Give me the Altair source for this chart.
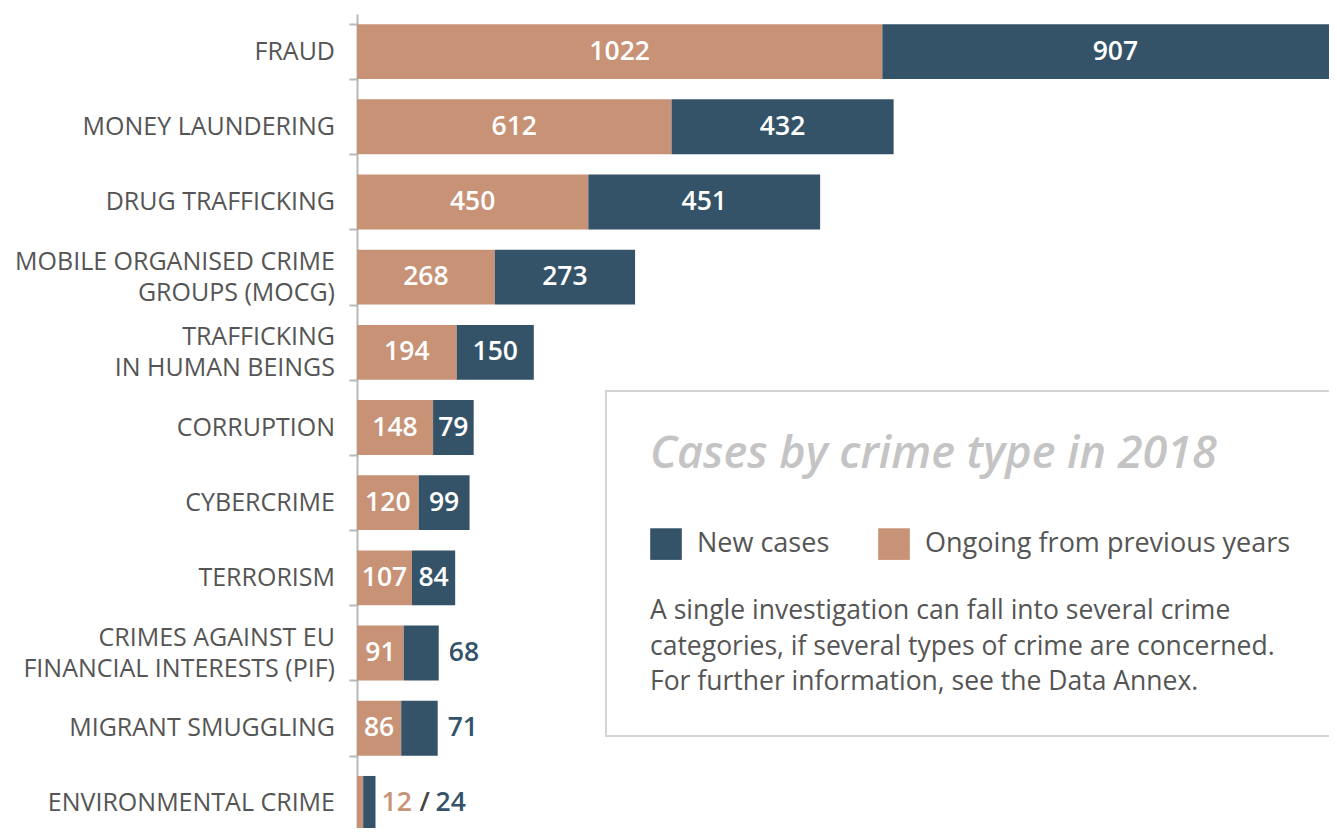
import altair as alt
import pandas as pd

# ---- data ----
categories = [
    "FRAUD",
    "MONEY LAUNDERING",
    "DRUG TRAFFICKING",
    "MOBILE ORGANISED CRIME|GROUPS (MOCG)",
    "TRAFFICKING|IN HUMAN BEINGS",
    "CORRUPTION",
    "CYBERCRIME",
    "TERRORISM",
    "CRIMES AGAINST EU|FINANCIAL INTERESTS (PIF)",
    "MIGRANT SMUGGLING",
    "ENVIRONMENTAL CRIME",
]
ongoing = [1022, 612, 450, 268, 194, 148, 120, 107, 91, 86, 12]
new_cases = [907, 432, 451, 273, 150, 79, 99, 84, 68, 71, 24]

series_names = ["Ongoing from previous years", "New cases"]
legend_order = ["New cases", "Ongoing from previous years"]
title_text = "Cases by crime type in 2018"
note_lines = [
    "A single investigation can fall into several crime",
    "categories, if several types of crime are concerned.",
    "For further information, see the Data Annex.",
]

ORANGE = "#C89276"
BLUE = "#345369"
GREY_TXT = "#555555"
FONT = "Open Sans"

# ---- tables built from the arrays ----
rows = []
for c, o, n in zip(categories, ongoing, new_cases):
    rows.append(dict(category=c, series=series_names[0], value=o, start=0, end=o,
                     mid=o / 2, order=0))
    rows.append(dict(category=c, series=series_names[1], value=n, start=o, end=o + n,
                     mid=o + n / 2, order=1))
bars = pd.DataFrame(rows)

lab = pd.DataFrame(dict(category=categories, ongoing=ongoing, new=new_cases))
lab["total"] = lab["ongoing"] + lab["new"]
lab["o_mid"] = lab["ongoing"] / 2
lab["n_mid"] = lab["ongoing"] + lab["new"] / 2
lab["o_in"] = lab["ongoing"] >= 50
lab["n_in"] = lab["new"] >= 75
lab["o_txt"] = lab["ongoing"].astype(str)
lab["n_txt"] = lab["new"].astype(str)
lab["multi"] = lab["category"].str.contains("|", regex=False)

xscale = alt.Scale(domain=[0, 1891], nice=False, zero=True)
yscale = alt.Scale(domain=categories, range=[0, 827], paddingInner=0.27, paddingOuter=0.135)

Y = alt.Y("category:N", sort=categories, scale=yscale, title=None,
          axis=alt.Axis(labels=False, tickBand="extent",
                        domainColor="#B8B8B8", domainWidth=2, tickColor="#B8B8B8",
                        tickWidth=2, tickSize=8))

bar = alt.Chart(bars).mark_bar(clip=True).encode(
    x=alt.X("start:Q", scale=xscale, axis=None),
    x2="end:Q",
    y=Y,
    color=alt.Color("series:N",
                    scale=alt.Scale(domain=legend_order, range=[BLUE, ORANGE]),
                    legend=alt.Legend(title=None, orient="none", legendX=293, legendY=514,
                                      direction="horizontal", symbolType="square",
                                      symbolSize=1000, symbolStrokeWidth=0,
                                      symbolOpacity=1, labelFontSize=27,
                                      labelFont=FONT, labelColor=GREY_TXT,
                                      labelOffset=15, columnPadding=48, padding=0,
                                      labelLimit=500)),
    order="order:Q",
)

# category labels (drawn as text so that two-line labels sit centred on their band)
cat_base = dict(font=FONT, fontSize=25, color=GREY_TXT, align="right", baseline="middle",
                lineBreak="|", lineHeight=31.5)
cat_single = alt.Chart(lab).transform_filter("!datum.multi").mark_text(
    dx=-22, **cat_base).encode(x=alt.value(0), y=Y, text="category:N")
cat_multi = alt.Chart(lab).transform_filter("datum.multi").mark_text(
    dx=-22, dy=-15.5, **cat_base).encode(x=alt.value(0), y=Y, text="category:N")

txt_base = dict(font=FONT, fontSize=26.5, fontWeight=600, baseline="middle")

o_in = alt.Chart(lab).transform_filter("datum.o_in").mark_text(
    color="white", align="center", **txt_base).encode(
    x=alt.X("o_mid:Q", scale=xscale), y=Y, text="o_txt:N")
n_in = alt.Chart(lab).transform_filter("datum.n_in").mark_text(
    color="white", align="center", **txt_base).encode(
    x=alt.X("n_mid:Q", scale=xscale), y=Y, text="n_txt:N")
n_out = alt.Chart(lab).transform_filter("!datum.n_in && datum.o_in").mark_text(
    color=BLUE, align="left", dx=10, **txt_base).encode(
    x=alt.X("total:Q", scale=xscale), y=Y, text="n_txt:N")
small_o = alt.Chart(lab).transform_filter("!datum.o_in").mark_text(
    color=ORANGE, align="left", dx=6, **txt_base).encode(
    x=alt.X("total:Q", scale=xscale), y=Y, text="o_txt:N")
small_sep = alt.Chart(lab).transform_filter("!datum.o_in").mark_text(
    color="#444444", align="left", dx=44, **txt_base).encode(
    x=alt.X("total:Q", scale=xscale), y=Y, text=alt.value("/"))
small_n = alt.Chart(lab).transform_filter("!datum.o_in").mark_text(
    color=BLUE, align="left", dx=60, **txt_base).encode(
    x=alt.X("total:Q", scale=xscale), y=Y, text="n_txt:N")

# annotation box (decoration)
one = pd.DataFrame({"t": [title_text]})
box = alt.Chart(one).mark_rect(fill="white", stroke="#D4D4D4", strokeWidth=2).encode(
    x=alt.value(249), x2=alt.value(1000), y=alt.value(377), y2=alt.value(722))
title = alt.Chart(one).mark_text(
    font=FONT, fontSize=45, fontStyle="italic", fontWeight=600, color="#C4C4C4",
    align="left", baseline="alphabetic").encode(
    x=alt.value(293), y=alt.value(454), text="t:N")
note = alt.Chart(pd.DataFrame({"t": ["\n".join(note_lines)]})).mark_text(
    font=FONT, fontSize=26.5, color=GREY_TXT, align="left", baseline="alphabetic",
    lineBreak="\n", lineHeight=35.5).encode(
    x=alt.value(293), y=alt.value(605), text="t:N")

chart = alt.layer(box, bar, cat_single, cat_multi, o_in, n_in, n_out,
                  small_o, small_sep, small_n, title, note).properties(
    width=972, height=814,
    autosize=alt.AutoSizeParams(type="none"),
    padding={"left": 349, "top": 6, "right": 0, "bottom": 0},
).configure_view(stroke=None).configure_axis(grid=False)

chart.save("out.html", embed_options={"renderer": "svg", "actions": False})
